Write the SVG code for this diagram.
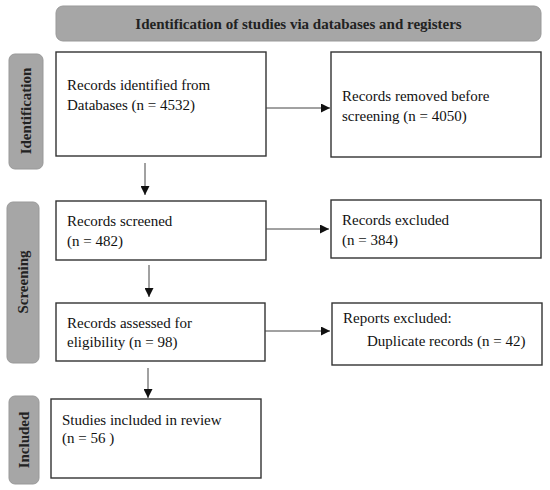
<svg xmlns="http://www.w3.org/2000/svg" width="550" height="490" viewBox="0 0 550 490">
<defs>
<style>
.box{fill:#fff;stroke:#333;stroke-width:1.4}
.lab{fill:#a6a6a6;stroke:#999;stroke-width:1}
.t{font-family:"Liberation Serif","Times New Roman",serif;font-size:15px;fill:#111}
.b{font-family:"Liberation Serif","Times New Roman",serif;font-size:15px;font-weight:bold;fill:#222}
.c{stroke:#444;stroke-width:1;fill:none}
</style>
<marker id="ah" viewBox="0 0 10 10" refX="10" refY="5" markerWidth="9" markerHeight="9" markerUnits="userSpaceOnUse" orient="auto">
<path d="M0,0 L10,5 L0,10 z" fill="#111"/>
</marker>
</defs>
<rect width="550" height="490" fill="#fff"/>
<g id="header">
<rect class="lab" x="56" y="6" width="485" height="35" rx="7"/>
<text class="b" x="298.5" y="29" text-anchor="middle">Identification of studies via databases and registers</text>
</g>
<g id="stage-identification">
<rect class="lab" x="9" y="54" width="34" height="115" rx="6"/>
<text class="b" transform="translate(31,111) rotate(-90)" text-anchor="middle">Identification</text>
</g>
<g id="stage-screening">
<rect class="lab" x="7" y="202" width="32" height="161" rx="6"/>
<text class="b" transform="translate(28,282) rotate(-90)" text-anchor="middle">Screening</text>
</g>
<g id="stage-included">
<rect class="lab" x="9" y="396" width="30" height="88" rx="6"/>
<text class="b" transform="translate(29,440) rotate(-90)" text-anchor="middle">Included</text>
</g>
<g id="records-identified">
<rect class="box" x="56" y="52" width="210" height="104"/>
<text class="t" x="67" y="90">Records identified from</text>
<text class="t" x="67" y="110">Databases (n = 4532)</text>
</g>
<g id="records-removed">
<rect class="box" x="331" y="52" width="210" height="105"/>
<text class="t" x="342" y="101">Records removed before</text>
<text class="t" x="342" y="121">screening (n = 4050)</text>
</g>
<g id="records-screened">
<rect class="box" x="56" y="201" width="210" height="59"/>
<text class="t" x="67" y="226">Records screened</text>
<text class="t" x="67" y="246">(n = 482)</text>
</g>
<g id="records-excluded">
<rect class="box" x="331" y="200" width="210" height="58"/>
<text class="t" x="342" y="225">Records excluded</text>
<text class="t" x="342" y="245">(n = 384)</text>
</g>
<g id="records-assessed">
<rect class="box" x="56" y="303" width="209" height="58"/>
<text class="t" x="67" y="328">Records assessed for</text>
<text class="t" x="67" y="347">eligibility (n = 98)</text>
</g>
<g id="reports-excluded">
<rect class="box" x="332" y="303" width="210" height="62"/>
<text class="t" x="343" y="323">Reports excluded:</text>
<text class="t" x="367" y="346">Duplicate records (n = 42)</text>
</g>
<g id="studies-included">
<rect class="box" x="51" y="399" width="210" height="79"/>
<text class="t" x="62" y="425">Studies included in review</text>
<text class="t" x="62" y="443">(n = 56 )</text>
</g>
<g id="connectors">
<line class="c" x1="266" y1="108" x2="330" y2="108" marker-end="url(#ah)"/>
<line class="c" x1="145" y1="163" x2="145" y2="195" marker-end="url(#ah)"/>
<line class="c" x1="266" y1="229" x2="329" y2="229" marker-end="url(#ah)"/>
<line class="c" x1="149" y1="265" x2="149" y2="297" marker-end="url(#ah)"/>
<line class="c" x1="265" y1="331" x2="330" y2="331" marker-end="url(#ah)"/>
<line class="c" x1="148" y1="368" x2="148" y2="398" marker-end="url(#ah)"/>
</g>
</svg>
